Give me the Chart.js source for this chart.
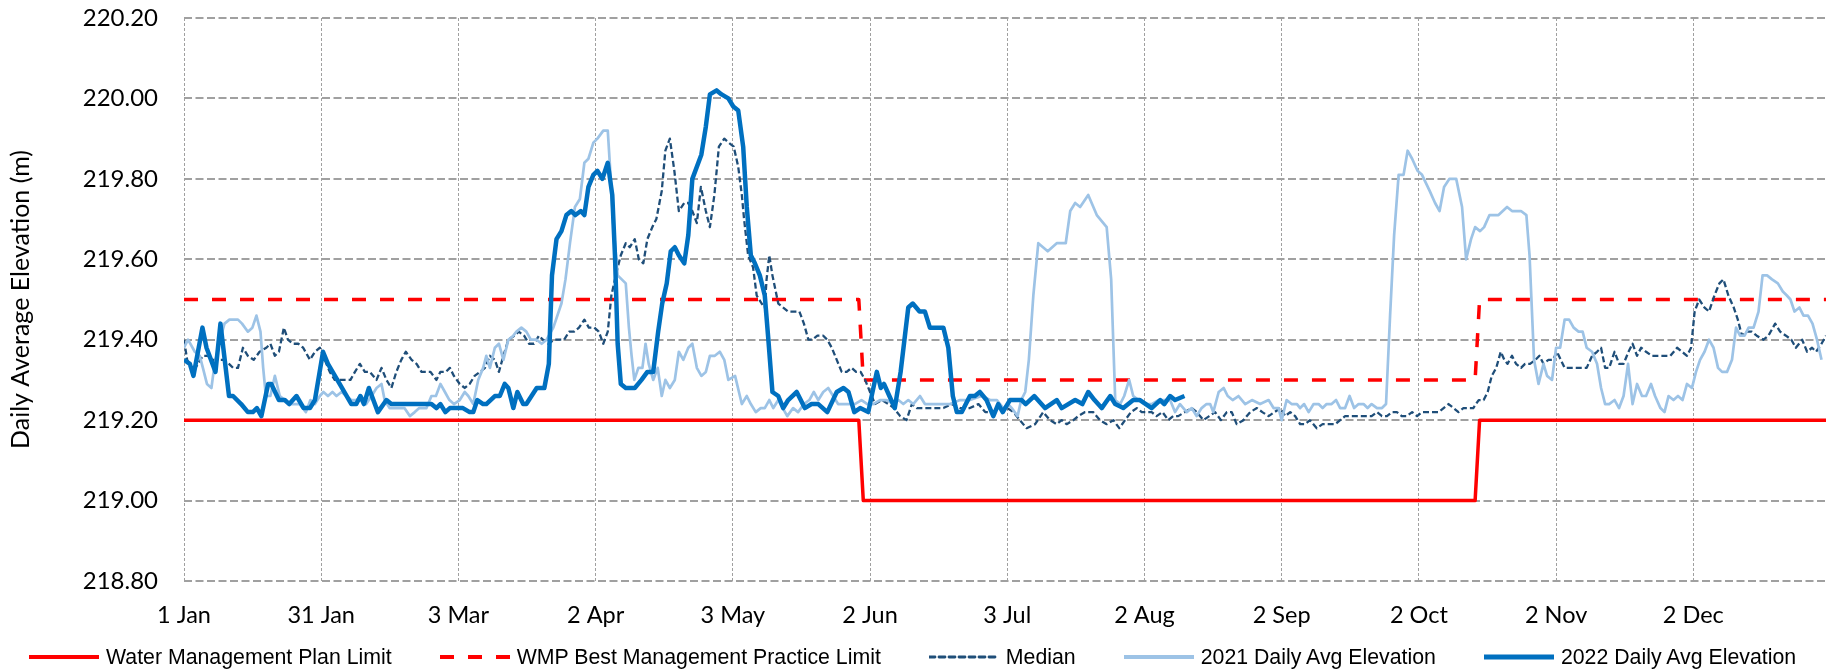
<!DOCTYPE html>
<html><head><meta charset="utf-8">
<script src="https://cdn.jsdelivr.net/npm/chart.js@4.4.1/dist/chart.umd.min.js"></script>
<style>
html,body{margin:0;padding:0;background:#fff;}
#wrap{position:relative;width:1830px;height:670px;overflow:hidden;background:#fff;}
#legend{position:absolute;left:29px;top:643px;height:28px;display:flex;align-items:center;font-family:"Liberation Sans",Arial,sans-serif;font-size:21.3px;color:#000;white-space:nowrap;}
.item{display:flex;align-items:center;margin-right:48px;}
.item svg{margin-right:7px;display:block;}
</style></head>
<body><div id="wrap"><canvas id="c" width="1830" height="670"></canvas><div id="legend"></div></div>
<script>
// ---- Axis ticks ----
const tickDays = [0, 30.5, 61, 91.5, 122, 152.5, 183, 213.5, 244, 274.5, 305, 335.5];
const tickLabels = ['1 Jan','31 Jan','3 Mar','2 Apr','3 May','2 Jun','3 Jul','2 Aug','2 Sep','2 Oct','2 Nov','2 Dec'];
const yTicks = [218.8, 219.0, 219.2, 219.4, 219.6, 219.8, 220.0, 220.2];

// ---- Series names ----
const seriesNames = ['Water Management Plan Limit','WMP Best Management Practice Limit','Median','2021 Daily Avg Elevation','2022 Daily Avg Elevation'];

// ---- Limits (day of year, elevation) ----
const limitDays = [0, 150, 151, 287, 288, 365];
const wmpLimit = [219.2, 219.2, 219.0, 219.0, 219.2, 219.2];
const bmpLimit = [219.5, 219.5, 219.3, 219.3, 219.5, 219.5];

// ---- Median ----
const medianDays = [0,0.7,2,3.1,4.2,5.3,6.4,7.8,8.7,10,10.9,12,13.1,14.2,15.5,16.8,18.3,19.2,20.2,21.1,22.2,23.1,24.2,25.4,26.5,28,29.1,30.2,31.3,32.4,33.5,34.6,35.7,37,38,39.1,40.2,41.3,42.8,43.9,45,46.1,47.2,48.3,49.3,50.6,51.7,52.8,53.7,54.8,56.1,57,58.2,59.1,60,61.3,62.4,63.5,64.6,65.8,66.9,68,69.1,70,71,72.1,73.4,74.4,75.6,76.7,77.8,78.9,79.8,81,82.3,83.3,84.5,85.6,86.7,87.8,89,90,91.2,92.2,93.2,94.2,95,96.2,97.1,98.2,99.1,100.2,101.1,102.1,103,104.1,105,106.2,107,108,109,110,111.2,112.1,113,114,114.9,116,116.9,117.9,118.9,120.1,121.1,122.2,123.2,124,124.5,125.4,126.5,127.3,128.4,129.1,129.5,130.1,130.8,132.1,133.2,134.3,136.8,137.8,138.8,139.7,140.8,142.1,143,144,145.1,146.2,147.3,148.4,149.4,150.4,151.4,152.5,153.6,155.1,156.6,157.8,159.2,160.6,161.8,162.9,164.3,166.6,168.8,170.6,172.5,174.7,176.6,178.1,179.9,181.4,183,184.4,185.8,187.3,189.2,191,192.5,194,195.1,196.2,197.7,198.8,200.3,202.1,203.6,205.1,206.6,207.9,209.2,210.5,211.8,212.9,214,215.1,216.2,217.5,218.8,219.9,221,222.5,224,225.1,226.6,227.9,229.2,230.5,231.8,232.9,234,235.5,237,238.5,239.7,241.1,242.4,243.7,244.8,245.9,247,248.1,249.2,250.3,251.8,253.1,254.4,255.9,257,258.1,259.6,261.1,262.9,264,265.2,266.3,267.4,268.5,269.6,270.7,271.8,273,274.1,275.2,276.3,277.8,278.9,280,281.1,282.2,283.3,284.4,285.5,286.6,287.8,288.9,289.8,290.7,291.7,292.7,293.5,294.2,295.2,296.1,297.2,298.1,299.2,300.4,301.3,302.2,303.3,304.3,305.2,306.9,308.1,309.4,310.7,311.8,313,314.1,315,315.9,316.8,318,319,320,321.1,322,323,323.9,325,326.3,327.4,328.7,330.4,331.9,333,334.1,335,335.8,336.8,338,339,340.2,341.3,342.2,343.3,344.5,345.4,346.3,347.4,348.5,349.6,351.1,352.2,353.7,354.8,356.1,357.3,358.3,359.7,360.8,361.9,362.8,364,365];
const medianVals = [219.40,219.35,219.32,219.34,219.36,219.36,219.35,219.35,219.35,219.34,219.33,219.33,219.38,219.36,219.35,219.37,219.38,219.39,219.36,219.37,219.43,219.40,219.39,219.39,219.38,219.35,219.37,219.38,219.35,219.32,219.30,219.30,219.30,219.30,219.32,219.34,219.32,219.32,219.30,219.33,219.30,219.28,219.32,219.35,219.37,219.35,219.34,219.32,219.32,219.32,219.30,219.32,219.32,219.33,219.31,219.29,219.28,219.29,219.31,219.32,219.33,219.36,219.35,219.32,219.36,219.40,219.41,219.42,219.41,219.39,219.39,219.41,219.40,219.39,219.40,219.40,219.40,219.42,219.42,219.43,219.45,219.43,219.43,219.42,219.39,219.42,219.51,219.57,219.61,219.64,219.63,219.65,219.60,219.59,219.65,219.68,219.70,219.77,219.87,219.90,219.82,219.72,219.74,219.74,219.72,219.69,219.78,219.72,219.68,219.76,219.88,219.90,219.89,219.88,219.83,219.76,219.70,219.61,219.58,219.51,219.49,219.48,219.55,219.61,219.56,219.49,219.48,219.47,219.47,219.44,219.40,219.40,219.41,219.41,219.40,219.38,219.35,219.32,219.32,219.33,219.32,219.32,219.30,219.27,219.24,219.25,219.24,219.23,219.21,219.20,219.24,219.23,219.23,219.23,219.23,219.24,219.23,219.23,219.24,219.22,219.22,219.23,219.23,219.22,219.20,219.18,219.19,219.22,219.20,219.19,219.20,219.19,219.20,219.21,219.22,219.22,219.20,219.19,219.20,219.18,219.20,219.22,219.23,219.22,219.22,219.22,219.21,219.22,219.20,219.21,219.21,219.22,219.23,219.22,219.20,219.21,219.22,219.20,219.22,219.22,219.19,219.20,219.22,219.23,219.22,219.21,219.22,219.23,219.21,219.22,219.21,219.19,219.19,219.20,219.18,219.19,219.19,219.19,219.20,219.21,219.21,219.21,219.21,219.21,219.22,219.21,219.21,219.22,219.22,219.21,219.21,219.22,219.21,219.22,219.22,219.22,219.22,219.23,219.24,219.23,219.22,219.23,219.23,219.23,219.25,219.25,219.27,219.31,219.33,219.37,219.35,219.34,219.36,219.34,219.33,219.34,219.34,219.35,219.36,219.34,219.35,219.35,219.37,219.33,219.33,219.33,219.33,219.33,219.36,219.37,219.38,219.33,219.33,219.37,219.34,219.34,219.37,219.39,219.36,219.38,219.37,219.36,219.36,219.36,219.36,219.38,219.37,219.36,219.38,219.47,219.50,219.48,219.47,219.51,219.54,219.55,219.51,219.48,219.45,219.41,219.42,219.42,219.41,219.40,219.41,219.44,219.42,219.41,219.40,219.38,219.40,219.37,219.38,219.37,219.39,219.41];

// ---- 2021 daily average ----
const days2021 = [0,0.9,2.4,3.5,4.2,5.1,6.1,6.8,7.8,9,10.1,12,12.9,14.2,15.2,16.1,17,17.6,18.2,19.2,20.2,21.3,22.4,23.5,24.6,25.7,27.1,28.1,29.1,30.2,31,32,33,33.9,35,36.1,37.2,38.3,39.4,40.5,41.7,42.8,43.9,44.6,45.7,48,49,50.2,51.3,52.3,53.9,55,56,57,58,59,60,61.3,62.4,63.2,64.3,65.4,66.5,67.2,68,69.1,70,71,72.1,73.2,73.9,75,76.1,77.1,78.4,79.5,80.6,82.1,83.9,84.8,85.8,86.9,88,89,89.9,91,91.9,93.2,94.2,94.7,95.4,96.4,97.3,98.2,98.9,99.5,100.1,101,101.9,102.6,103.3,104.3,105.3,106.2,107,108,109.1,110,111,112.1,113,114,115,116,116.9,118,119.1,120.1,121,122.5,124,125.1,126,127.1,128.2,129.1,130.1,131,132.1,133.1,134.1,135.4,136.5,137.8,139,140,141,142.1,143.2,144.3,145.4,146.9,149.1,150.6,151.9,153.2,154.7,156.2,157.7,158.8,159.9,161,162.1,163.6,164.7,168.8,170.3,172.5,174.7,177.3,179.2,180.7,182.1,183.2,184,185.3,186.1,187,187.8,188.8,189.9,192,194,196,197,198.1,199.2,201,202.9,205.1,206.1,207,208.1,209,210.1,211,212.2,213.6,215.1,216.6,217.9,219.2,220.3,221.4,222.9,224,225.1,226.2,227.3,228.1,228.8,230,231.1,232,233.1,234.4,235.9,237.4,239.2,241.1,242.2,243.3,244,245.1,246.2,247.4,248.1,249,250,251.1,252.2,253.1,254,255.1,256.1,257,258.1,259.1,260.1,261.1,262.2,263.1,264,265.2,266.3,267.2,268.1,269,270,271.1,272,273,274.2,275.2,276.9,278.1,279.1,280.1,281.3,282.8,284.1,285,286.1,287,288.1,289,290.2,292.2,294.1,295.2,297.2,298.4,299.1,300.1,301.1,302.2,303,304.1,305,305.9,306.9,307.9,308.9,310,310.9,311.8,313,314.1,315,315.9,316.8,318,319,320,321,322,323,324.1,325,326.1,327,328.2,329.1,330,331.1,332.1,333.1,334.1,335.2,336.1,337,338,339,340,341,341.9,343,344.1,345,345.9,346.9,347.8,348.9,350,350.9,351.9,353,354.3,355.4,356.3,357.1,358,359.1,360,361,362,363,364];
const vals2021 = [219.38,219.40,219.37,219.36,219.33,219.29,219.28,219.34,219.39,219.44,219.45,219.45,219.44,219.42,219.43,219.46,219.42,219.33,219.26,219.26,219.31,219.26,219.25,219.24,219.24,219.24,219.22,219.25,219.24,219.26,219.27,219.26,219.27,219.26,219.27,219.26,219.25,219.25,219.26,219.24,219.26,219.28,219.29,219.25,219.23,219.23,219.23,219.21,219.22,219.23,219.23,219.26,219.26,219.29,219.27,219.25,219.24,219.25,219.27,219.26,219.24,219.30,219.33,219.36,219.33,219.38,219.39,219.35,219.40,219.41,219.42,219.43,219.42,219.40,219.40,219.39,219.40,219.43,219.49,219.55,219.64,219.73,219.75,219.84,219.85,219.89,219.90,219.92,219.92,219.83,219.69,219.56,219.55,219.54,219.43,219.36,219.30,219.33,219.33,219.39,219.34,219.30,219.33,219.26,219.30,219.28,219.30,219.37,219.35,219.38,219.39,219.33,219.31,219.32,219.36,219.36,219.37,219.35,219.30,219.31,219.24,219.26,219.24,219.22,219.23,219.23,219.25,219.23,219.25,219.23,219.21,219.23,219.22,219.24,219.25,219.27,219.25,219.27,219.28,219.26,219.24,219.24,219.24,219.25,219.24,219.24,219.25,219.25,219.24,219.25,219.24,219.25,219.24,219.26,219.24,219.24,219.24,219.25,219.25,219.26,219.25,219.25,219.23,219.24,219.23,219.21,219.25,219.27,219.35,219.51,219.64,219.62,219.64,219.64,219.72,219.74,219.73,219.76,219.71,219.68,219.55,219.25,219.24,219.26,219.30,219.26,219.25,219.24,219.24,219.25,219.25,219.25,219.22,219.24,219.22,219.23,219.21,219.23,219.24,219.24,219.22,219.27,219.28,219.26,219.25,219.26,219.24,219.25,219.24,219.25,219.23,219.23,219.20,219.25,219.24,219.24,219.23,219.24,219.22,219.24,219.24,219.23,219.24,219.24,219.25,219.23,219.23,219.26,219.23,219.24,219.24,219.23,219.24,219.23,219.23,219.24,219.46,219.66,219.81,219.81,219.87,219.85,219.82,219.81,219.77,219.74,219.72,219.78,219.80,219.80,219.73,219.60,219.65,219.68,219.67,219.68,219.71,219.71,219.73,219.72,219.72,219.71,219.61,219.35,219.29,219.34,219.31,219.30,219.38,219.38,219.45,219.45,219.43,219.42,219.42,219.38,219.37,219.34,219.28,219.24,219.24,219.25,219.23,219.26,219.34,219.24,219.29,219.26,219.26,219.29,219.26,219.23,219.22,219.26,219.25,219.26,219.25,219.29,219.28,219.32,219.35,219.37,219.40,219.38,219.33,219.32,219.32,219.35,219.43,219.41,219.41,219.43,219.43,219.47,219.56,219.56,219.55,219.54,219.52,219.51,219.50,219.47,219.48,219.46,219.46,219.44,219.40,219.35];

// ---- 2022 daily average ----
const days2022 = [0,1.3,2.1,4.1,5,7,8.1,10,10.9,12.7,14.2,15.3,16.2,17.2,18.7,19.4,21.1,22.4,23.4,25,26.6,28,29.1,30.9,32,34.6,37.2,38.3,39.2,40,41.1,43.1,45,46.1,55,56.1,57,58.1,59.1,62,63.5,64.3,65.2,66.5,67.2,69.1,70.2,71.3,72.1,73.2,74.1,75.4,76.1,78.4,80.1,81.1,81.8,82.8,83.9,85,86.1,87,88.2,89,89.9,91,91.9,93,94.2,95.2,95.8,96.4,97.1,98.2,100.2,101.7,103,104.3,105.4,106.3,107.3,108.2,109.1,110,111.2,112.1,113,115,116,116.9,118.4,119.5,121,122.1,123.2,124.3,125.1,126,126.9,128,129.1,129.9,130.8,132.1,133.2,134.3,136.2,138,139.5,141,143,145.1,146.6,147.7,149,150.3,152.1,154,154.9,155.6,156.8,158,159.3,161,162,163.5,164.7,165.8,168.8,169.9,170.9,171.8,172.9,174.7,175.8,176.9,178.4,179.9,181,182,183.6,184.4,186.2,187.1,189,191.4,194,195.1,198.1,199.7,201,202.4,204,205.9,207,208.8,211,212.5,215.1,217,217.9,219.2,220.3,222.4];
const vals2022 = [219.35,219.34,219.31,219.43,219.38,219.32,219.44,219.26,219.26,219.24,219.22,219.22,219.23,219.21,219.29,219.29,219.25,219.25,219.24,219.26,219.23,219.23,219.25,219.37,219.34,219.29,219.24,219.24,219.26,219.24,219.28,219.22,219.25,219.24,219.24,219.23,219.24,219.22,219.23,219.23,219.22,219.22,219.25,219.24,219.24,219.26,219.26,219.29,219.28,219.23,219.27,219.24,219.24,219.28,219.28,219.34,219.56,219.65,219.67,219.71,219.72,219.71,219.72,219.71,219.78,219.81,219.82,219.80,219.84,219.76,219.61,219.39,219.29,219.28,219.28,219.30,219.32,219.32,219.42,219.49,219.54,219.62,219.63,219.61,219.59,219.66,219.80,219.86,219.93,220.01,220.02,220.01,220.00,219.98,219.97,219.88,219.73,219.61,219.59,219.56,219.51,219.40,219.27,219.26,219.23,219.25,219.27,219.23,219.24,219.24,219.22,219.27,219.28,219.27,219.22,219.23,219.22,219.32,219.28,219.29,219.26,219.23,219.32,219.48,219.49,219.47,219.47,219.43,219.43,219.38,219.26,219.22,219.22,219.26,219.26,219.27,219.25,219.21,219.24,219.22,219.25,219.25,219.25,219.24,219.26,219.23,219.25,219.23,219.25,219.24,219.27,219.25,219.23,219.26,219.24,219.23,219.25,219.25,219.23,219.25,219.24,219.26,219.25,219.26];

const pts = (xs, ys) => xs.map((x, i) => ({x: x, y: ys[i]}));

const styles = [
  {color:'#FF0000', width:3.5, dash:[], order:4},
  {color:'#FF0000', width:3.5, dash:[14,14], order:3},
  {color:'#1F4E79', width:2.3, dash:[6,3], order:2},
  {color:'#9DC3E6', width:2.7, dash:[], order:1},
  {color:'#0070C0', width:4.5, dash:[], order:0}
];
const seriesData = [pts(limitDays, wmpLimit), pts(limitDays, bmpLimit), pts(medianDays, medianVals), pts(days2021, vals2021), pts(days2022, vals2022)];

const datasets = seriesNames.map((n, i) => ({
  label: n, data: seriesData[i], borderColor: styles[i].color, backgroundColor: styles[i].color,
  borderWidth: styles[i].width, borderDash: styles[i].dash, order: styles[i].order,
  pointRadius: 0, tension: 0, fill: false, borderJoinStyle: 'round'
}));

const gridColor = '#A0A0A0';
new Chart(document.getElementById('c'), {
  type: 'line',
  data: {datasets},
  options: {
    responsive: false, animation: false, devicePixelRatio: 1, events: [],
    layout: {autoPadding: false, padding: {left: 0, right: 4, top: 18, bottom: 0}},
    plugins: {legend: {display: false}, tooltip: {enabled: false}},
    scales: {
      x: {
        type: 'linear', min: 0, max: 365,
        afterBuildTicks: ax => { ax.ticks = tickDays.map(v => ({value: v})); },
        afterFit: s => { s.height = 89; },
        ticks: {autoSkip: false, maxRotation: 0, padding: 20, color: '#000',
          font: {family: 'Lato', size: 23.5},
          callback: (v, i) => tickLabels[i]},
        grid: {color: gridColor, lineWidth: 1, drawTicks: false},
        border: {display: false, dash: [3, 2]}
      },
      y: {
        min: 218.8, max: 220.2,
        afterBuildTicks: ax => { ax.ticks = yTicks.map(v => ({value: v})); },
        afterFit: s => { s.width = 184; },
        ticks: {padding: 0, color: '#000', font: {family: 'Lato', size: 24},
          callback: v => Number(v).toFixed(2)},
        grid: {color: gridColor, lineWidth: 2, drawTicks: true, tickLength: 26, tickColor: 'rgba(0,0,0,0)'},
        border: {display: false, dash: [8, 3.5]},
        title: {display: true, text: 'Daily Average Elevation (m)', color: '#000',
          font: {family: 'Lato', size: 25}, padding: {top: 6, bottom: 0}}
      }
    }
  }
});

// ---- HTML legend built from the same series ----
const lg = document.getElementById('legend');
seriesNames.forEach((n, i) => {
  const it = document.createElement('div'); it.className = 'item';
  const st = styles[i];
  const w = i === 4 ? 5 : (i === 3 ? 4 : st.width + 0.5);
  it.innerHTML = '<svg width="70" height="12"><line x1="0" y1="6" x2="70" y2="6" stroke="' + st.color +
    '" stroke-width="' + w + '"' + (st.dash.length ? ' stroke-dasharray="' + (i === 1 ? '14,14' : '6,4') + '"' : '') +
    ' stroke-linecap="' + (i===1 ? 'butt' : 'round') + '"/></svg><span>' + n + '</span>';
  lg.appendChild(it);
});
</script></body></html>
